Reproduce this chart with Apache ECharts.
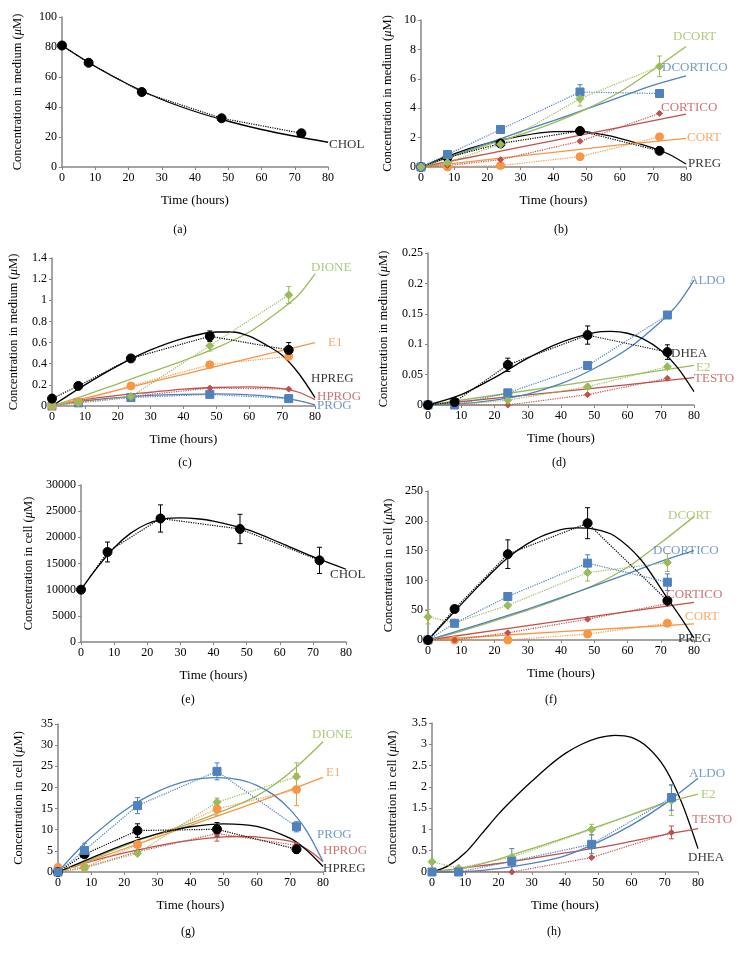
<!DOCTYPE html>
<html>
<head>
<meta charset="UTF-8">
<title>Steroid concentrations</title>
<script src="https://cdn.jsdelivr.net/npm/echarts@6/dist/echarts.min.js"></script>
<style>
  html, body { margin: 0; padding: 0; background: #fff; }
  #chart { width: 742px; height: 959px; }
</style>
</head>
<body>
<div id="chart"></div>
<script type="text/javascript">
// sampling times (hours)
const time = [0, 8, 24, 48, 72];

// (a) medium
const aCHOL = [81, 69.5, 50, 32.5, 22.5];
const aCHOLerr = [0, 0, 0, 0, 0];
const aCHOLfit = [[0,81],[10,67],[20,55],[30,45],[40,37],[50,30.5],[60,25],[70,20.5],[80,16.5]];

// (b) medium
const bDCORT = [0, 0.3, 1.55, 4.65, 6.85];
const bDCORTerr = [0, 0, 0.1, 0.5, 0.7];
const bDCORTICO = [0, 0.85, 2.55, 5.1, 5.0];
const bDCORTICOerr = [0, 0, 0, 0.5, 0];
const bCORTICO = [0, 0.1, 0.5, 1.75, 3.65];
const bCORT = [0, 0, 0.1, 0.7, 2.05];
const bPREG = [0, 0.65, 1.6, 2.45, 1.1];
const bDCORTfit = [[0,0],[10,0.75],[20,1.5],[30,2.2],[40,3.0],[50,3.95],[60,5.1],[70,6.6],[80,8.2]];
const bDCORTICOfit = [[0,0],[10,0.8],[20,1.6],[30,2.4],[40,3.15],[50,3.95],[60,4.75],[70,5.55],[80,6.2]];
const bCORTICOfit = [[0,0],[20,0.9],[40,1.8],[60,2.7],[80,3.6]];
const bCORTfit = [[0,0],[20,0.5],[40,1.0],[60,1.5],[80,1.95]];
const bPREGfit = [[0,0],[10,0.9],[20,1.6],[30,2.1],[40,2.4],[48,2.42],[55,2.2],[60,1.95],[70,1.3],[75,0.85],[80,0.2]];

// (c) medium
const cHPREG = [0.07, 0.19, 0.45, 0.66, 0.53];
const cHPREGerr = [0, 0.02, 0.02, 0.05, 0.07];
const cDIONE = [0, 0.03, 0.09, 0.57, 1.05];
const cDIONEerr = [0, 0, 0.01, 0.05, 0.08];
const cE1 = [0, 0.04, 0.19, 0.39, 0.47];
const cHPROG = [0, 0.04, 0.09, 0.17, 0.16];
const cPROG = [0, 0.03, 0.08, 0.11, 0.07];
const cHPREGfit = [[0,0],[10,0.2],[20,0.38],[30,0.53],[40,0.64],[50,0.7],[55,0.7],[60,0.66],[65,0.58],[70,0.48],[75,0.31],[80,0.08]];
const cDIONEfit = [[0,0],[10,0.1],[20,0.21],[30,0.32],[40,0.43],[50,0.55],[60,0.7],[70,0.92],[75,1.05],[80,1.25]];
const cE1fit = [[0,0],[20,0.15],[40,0.3],[60,0.45],[80,0.6]];
const cHPROGfit = [[0,0],[10,0.06],[20,0.1],[30,0.13],[40,0.16],[50,0.175],[60,0.18],[70,0.165],[75,0.13],[80,0.06]];
const cPROGfit = [[0,0],[10,0.05],[20,0.08],[30,0.1],[40,0.11],[50,0.115],[60,0.105],[70,0.08],[75,0.05],[80,0.01]];

// (d) medium
const dDHEA = [0, 0.005, 0.066, 0.115, 0.087];
const dDHEAerr = [0, 0.003, 0.011, 0.015, 0.012];
const dALDO = [0, 0, 0.02, 0.065, 0.148];
const dALDOerr = [0, 0, 0, 0, 0.005];
const dE2 = [0, 0, 0.008, 0.03, 0.063];
const dTESTO = [0, 0, 0, 0.017, 0.044];
const dDHEAfit = [[0,0],[10,0.017],[20,0.045],[30,0.077],[40,0.103],[50,0.119],[55,0.121],[60,0.118],[65,0.108],[70,0.09],[75,0.062],[80,0.022]];
const dALDOfit = [[0,0],[10,0.002],[20,0.008],[30,0.018],[40,0.035],[50,0.06],[60,0.092],[70,0.137],[75,0.165],[80,0.205]];
const dE2fit = [[0,0],[40,0.032],[80,0.065]];
const dTESTOfit = [[0,0],[40,0.022],[80,0.045]];

// (e) cell
const eCHOL = [10000, 17200, 23600, 21600, 15600];
const eCHOLerr = [0, 1900, 2600, 2800, 2500];
const eCHOLfit = [[0,10000],[5,14300],[10,18000],[15,20800],[20,22600],[25,23500],[30,23700],[35,23550],[40,23100],[50,21500],[60,19000],[70,16300],[80,13900]];

// (f) cell
const fPREG = [0, 52, 144, 196, 66];
const fPREGerr = [0, 0, 24, 26, 0];
const fDCORTICO = [0, 28, 73, 129, 97];
const fDCORTICOerr = [0, 3, 0, 14, 14];
const fDCORT = [39, 29, 58, 113, 130];
const fDCORTerr = [12, 0, 0, 14, 15];
const fCORTICO = [0, 0, 12, 35, 61];
const fCORT = [0, 0, 0, 10, 28];
const fPREGfit = [[0,0],[8,48],[16,95],[24,138],[32,168],[40,185],[45,188],[50,186],[56,175],[64,135],[72,70],[76,38],[80,3]];
const fDCORTfit = [[0,0],[10,15],[20,32],[30,50],[40,70],[50,92],[60,122],[70,163],[80,207]];
const fDCORTICOfit = [[0,0],[10,17],[20,34],[30,52],[40,71],[50,91],[60,111],[70,132],[80,150]];
const fCORTICOfit = [[0,0],[40,32],[80,63]];
const fCORTfit = [[0,0],[40,14],[80,27]];

// (g) cell
const gPROG = [0, 5.1, 15.7, 23.8, 10.7];
const gPROGerr = [0, 1.7, 1.9, 2, 1.2];
const gDIONE = [0, 1, 4.4, 16.5, 22.5];
const gDIONEerr = [0, 0, 0.4, 1, 3.3];
const gE1 = [1.1, 1.1, 6.5, 14.9, 19.5];
const gE1err = [0, 0, 0.5, 1.5, 3.8];
const gHPREG = [0, 4.2, 9.8, 10.1, 5.4];
const gHPREGerr = [0, 0.7, 1.6, 1.6, 1];
const gHPROG = [0, 1, 4.8, 9.1, 6.3];
const gHPROGerr = [0, 0, 0, 1.8, 0.5];
const gPROGfit = [[0,0],[5,4.3],[10,8.2],[20,14.5],[30,19],[40,21.7],[48,22.3],[55,21.8],[60,20.5],[65,18.3],[70,14.8],[75,9.8],[80,2.5]];
const gDIONEfit = [[0,0],[10,3],[20,6.2],[30,9],[40,11.5],[50,14.5],[60,18],[70,23.5],[80,30.8]];
const gE1fit = [[0,0],[20,5.5],[40,11],[60,16.5],[80,22.4]];
const gHPREGfit = [[0,0],[10,3.3],[20,6.5],[30,9],[40,10.7],[50,11.4],[60,10.8],[70,8],[75,5.2],[80,1.3]];
const gHPROGfit = [[0,0],[10,2.5],[20,4.5],[30,6.2],[40,7.5],[50,8.3],[55,8.4],[60,8.3],[70,7.3],[75,5.5],[80,2.5]];

// (h) cell
const hALDO = [0, 0, 0.25, 0.65, 1.75];
const hALDOerr = [0, 0, 0.3, 0.22, 0.3];
const hE2 = [0.24, 0.09, 0.35, 1.0, 1.68];
const hE2err = [0, 0, 0, 0.12, 0.35];
const hTESTO = [0, 0.01, 0, 0.34, 0.93];
const hTESTOerr = [0, 0, 0, 0, 0.15];
const hDHEAfit = [[0,0],[5,0.15],[10,0.45],[15,0.9],[20,1.36],[25,1.76],[30,2.13],[35,2.48],[40,2.78],[45,3.0],[50,3.15],[55,3.21],[60,3.16],[65,2.92],[70,2.45],[75,1.65],[80,0.55]];
const hALDOfit = [[0,0],[10,0.01],[20,0.08],[30,0.2],[40,0.38],[50,0.7],[60,1.1],[70,1.6],[80,2.2]];
const hE2fit = [[0,0],[10,0.1],[20,0.3],[30,0.55],[40,0.8],[50,1.07],[60,1.35],[70,1.62],[80,1.83]];
const hTESTOfit = [[0,0],[10,0.1],[20,0.2],[30,0.32],[40,0.45],[50,0.57],[60,0.72],[70,0.88],[80,1.02]];

const FONT = '"Liberation Serif", "DejaVu Serif", serif';
const AXIS = '#868686';
const COLOR = { black: '#000000', blue: '#4f81bd', red: '#c0504d', green: '#9bbb59', orange: '#f79646' };
const MARK = { black: ['circle', 9], blue: ['rect', 8], green: ['diamond', 8], red: ['diamond', 6], orange: ['circle', 8] };

// panel layout + what goes in it
const panels = [
  { cap: '(a)', capPos: [180, 230], grid: { left: 62, top: 17, width: 266, height: 150 }, yMax: 100, yStep: 20, where: 'medium', yGap: 38,
    items: [
      { name: 'CHOL', c: 'black', pts: aCHOL, err: aCHOLerr, fit: aCHOLfit, lab: [1, 2] }
    ] },
  { cap: '(b)', capPos: [561, 230], grid: { left: 421, top: 20, width: 265, height: 147 }, yMax: 10, yStep: 2, where: 'medium', yGap: 27,
    items: [
      { name: 'PREG', c: 'black', pts: bPREG, fit: bPREGfit, lab: [2, 0] },
      { name: 'CORT', c: 'orange', pts: bCORT, fit: bCORTfit, lab: [1, -1] },
      { name: 'CORTICO', c: 'red', pts: bCORTICO, fit: bCORTICOfit, lab: [-25, -7] },
      { name: 'DCORTICO', c: 'blue', pts: bDCORTICO, err: bDCORTICOerr, fit: bDCORTICOfit, lab: [-24, -8] },
      { name: 'DCORT', c: 'green', pts: bDCORT, err: bDCORTerr, fit: bDCORTfit, lab: [-13, -10] }
    ] },
  { cap: '(c)', capPos: [185, 463], grid: { left: 52, top: 258, width: 263, height: 148 }, yMax: 1.4, yStep: 0.2, where: 'medium', yGap: 32,
    items: [
      { name: 'PROG', c: 'blue', pts: cPROG, fit: cPROGfit, lab: [2, 1] },
      { name: 'HPROG', c: 'red', pts: cHPROG, fit: cHPROGfit, lab: [2, -3] },
      { name: 'E1', c: 'orange', pts: cE1, fit: cE1fit, lab: [13, 0] },
      { name: 'DIONE', c: 'green', pts: cDIONE, err: cDIONEerr, fit: cDIONEfit, lab: [-4, -6] },
      { name: 'HPREG', c: 'black', pts: cHPREG, err: cHPREGerr, fit: cHPREGfit, lab: [-4, -19] }
    ] },
  { cap: '(d)', capPos: [559, 463], grid: { left: 428, top: 253, width: 266, height: 152 }, yMax: 0.25, yStep: 0.05, where: 'medium', yGap: 38,
    items: [
      { name: 'TESTO', c: 'red', pts: dTESTO, fit: dTESTOfit, lab: [0, 1] },
      { name: 'E2', c: 'green', pts: dE2, fit: dE2fit, lab: [2, 2] },
      { name: 'ALDO', c: 'blue', pts: dALDO, err: dALDOerr, fit: dALDOfit, lab: [-5, 0] },
      { name: 'DHEA', c: 'black', pts: dDHEA, err: dDHEAerr, fit: dDHEAfit, lab: [-23, -38] }
    ] },
  { cap: '(e)', capPos: [188, 700], grid: { left: 81, top: 485, width: 265, height: 157 }, yMax: 30000, yStep: 5000, where: 'cell', yGap: 46,
    items: [
      { name: 'CHOL', c: 'black', pts: eCHOL, err: eCHOLerr, fit: eCHOLfit, lab: [-16, 5] }
    ] },
  { cap: '(f)', capPos: [551, 700], grid: { left: 428, top: 491, width: 266, height: 149 }, yMax: 250, yStep: 50, where: 'cell', yGap: 33,
    items: [
      { name: 'CORT', c: 'orange', pts: fCORT, fit: fCORTfit, lab: [-9, -7] },
      { name: 'CORTICO', c: 'red', pts: fCORTICO, fit: fCORTICOfit, lab: [-28, -8] },
      { name: 'DCORT', c: 'green', pts: fDCORT, err: fDCORTerr, fit: fDCORTfit, lab: [-26, -1] },
      { name: 'DCORTICO', c: 'blue', pts: fDCORTICO, err: fDCORTICOerr, fit: fDCORTICOfit, lab: [-41, 0] },
      { name: 'PREG', c: 'black', pts: fPREG, err: fPREGerr, fit: fPREGfit, lab: [-16, 0] }
    ] },
  { cap: '(g)', capPos: [188, 932], grid: { left: 58, top: 724, width: 265, height: 148 }, yMax: 35, yStep: 5, where: 'cell', yGap: 33,
    items: [
      { name: 'HPROG', c: 'red', pts: gHPROG, err: gHPROGerr, fit: gHPROGfit, lab: [0, -11] },
      { name: 'E1', c: 'orange', pts: gE1, err: gE1err, fit: gE1fit, lab: [3, -5] },
      { name: 'DIONE', c: 'green', pts: gDIONE, err: gDIONEerr, fit: gDIONEfit, lab: [-11, -7] },
      { name: 'HPREG', c: 'black', pts: gHPREG, err: gHPREGerr, fit: gHPREGfit, lab: [0, 2] },
      { name: 'PROG', c: 'blue', pts: gPROG, err: gPROGerr, fit: gPROGfit, lab: [-6, -27] }
    ] },
  { cap: '(h)', capPos: [554, 932], grid: { left: 432, top: 723, width: 266, height: 149 }, yMax: 3.5, yStep: 0.5, where: 'cell', yGap: 33,
    items: [
      { name: 'DHEA', c: 'black', pts: null, fit: hDHEAfit, lab: [-10, 9] },
      { name: 'TESTO', c: 'red', pts: hTESTO, err: hTESTOerr, fit: hTESTOfit, lab: [-6, -9] },
      { name: 'E2', c: 'green', pts: hE2, err: hE2err, fit: hE2fit, lab: [3, 0] },
      { name: 'ALDO', c: 'blue', pts: hALDO, err: hALDOerr, fit: hALDOfit, lab: [-9, -5] }
    ] }
];

const grids = [], xAxes = [], yAxes = [], series = [], graphics = [];

panels.forEach(function (p, i) {
  grids.push(p.grid);
  xAxes.push({
    type: 'value', gridIndex: i, min: 0, max: 80, interval: 10,
    name: 'Time (hours)', nameLocation: 'middle', nameGap: 27,
    nameTextStyle: { fontFamily: FONT, fontSize: 13, color: '#000' },
    axisLine: { lineStyle: { color: AXIS, width: 1.5 } },
    axisTick: { show: true, length: 3, lineStyle: { color: AXIS } },
    axisLabel: { fontFamily: FONT, fontSize: 12, color: '#000', margin: 5 },
    splitLine: { show: false }
  });
  yAxes.push({
    type: 'value', gridIndex: i, min: 0, max: p.yMax, interval: p.yStep,
    name: 'Concentration in ' + p.where + ' ({i|μ}M)', nameLocation: 'middle', nameGap: p.yGap,
    nameTextStyle: { fontFamily: FONT, fontSize: 12.5, color: '#000',
      rich: { i: { fontFamily: FONT, fontSize: 12.5, fontStyle: 'italic', color: '#000' } } },
    axisLine: { show: true, lineStyle: { color: AXIS, width: 1.5 } },
    axisTick: { show: true, length: 3, lineStyle: { color: AXIS } },
    axisLabel: { fontFamily: FONT, fontSize: 12, color: '#000', margin: 5,
      formatter: function (v) { return String(Math.round(v * 1000) / 1000); } },
    splitLine: { show: false }
  });
  graphics.push({
    type: 'text', x: p.capPos[0], y: p.capPos[1],
    style: { text: p.cap, font: '12px ' + FONT, fill: '#000', align: 'center', verticalAlign: 'middle' }
  });

  // model curves underneath
  p.items.forEach(function (it) {
    const col = COLOR[it.c];
    series.push({
      type: 'line', xAxisIndex: i, yAxisIndex: i, data: it.fit,
      smooth: 0.3, showSymbol: false, silent: true, clip: false,
      lineStyle: { color: col, width: 1.3 }, z: 2
    });
  });

  // measured points: dotted connectors, error bars, markers
  p.items.forEach(function (it) {
    if (!it.pts) return;
    const col = COLOR[it.c];
    const mk = MARK[it.c];
    if (it.err) {
      series.push({
        type: 'custom', xAxisIndex: i, yAxisIndex: i, silent: true, clip: false, z: 3,
        data: time.map(function (t, k) { return [t, it.pts[k], it.err[k]]; }).filter(function (d) { return d[2] > 0; }),
        renderItem: function (params, api) {
          const x = api.value(0), y = api.value(1), e = api.value(2);
          const hi = api.coord([x, y + e]);
          const lo = api.coord([x, Math.max(0, y - e)]);
          const w = 2.5;
          const st = { stroke: col, lineWidth: 1 };
          return { type: 'group', children: [
            { type: 'line', shape: { x1: hi[0], y1: hi[1], x2: lo[0], y2: lo[1] }, style: st },
            { type: 'line', shape: { x1: hi[0] - w, y1: hi[1], x2: hi[0] + w, y2: hi[1] }, style: st },
            { type: 'line', shape: { x1: lo[0] - w, y1: lo[1], x2: lo[0] + w, y2: lo[1] }, style: st }
          ] };
        }
      });
    }
    series.push({
      type: 'line', xAxisIndex: i, yAxisIndex: i, silent: true, clip: false, z: 4,
      data: time.map(function (t, k) { return [t, it.pts[k]]; }),
      symbol: mk[0], symbolSize: mk[1], showSymbol: true,
      itemStyle: { color: col, borderColor: col },
      lineStyle: { color: col, width: 1.2, type: 'dotted' }
    });
  });

  // curve names at the curve ends
  p.items.forEach(function (it) {
    const col = COLOR[it.c];
    series.push({
      type: 'scatter', xAxisIndex: i, yAxisIndex: i, silent: true, clip: false, z: 5,
      data: [it.fit[it.fit.length - 1]], symbolSize: 0,
      label: { show: true, position: 'right', distance: 0, offset: it.lab,
        formatter: it.name, color: col, fontFamily: FONT, fontSize: 13 }
    });
  });
});

const chart = echarts.init(document.getElementById('chart'), null, { renderer: 'canvas' });
chart.setOption({
  animation: false,
  backgroundColor: '#fff',
  grid: grids,
  xAxis: xAxes,
  yAxis: yAxes,
  series: series,
  graphic: graphics
});
</script>
</body>
</html>
